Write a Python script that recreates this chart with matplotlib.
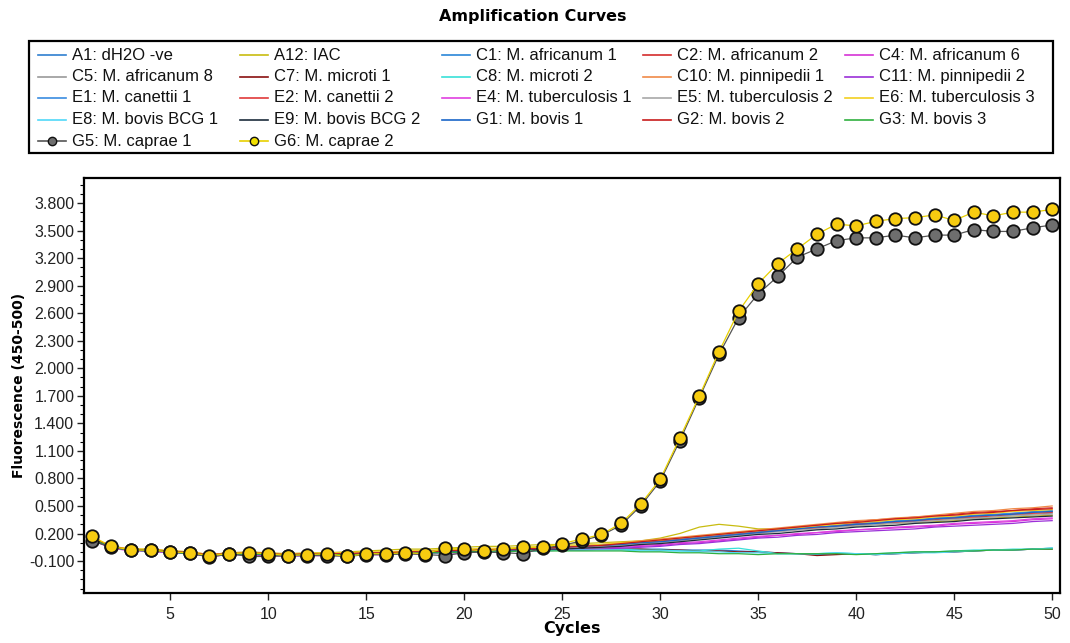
import matplotlib
matplotlib.use('Agg')
import matplotlib.pyplot as plt
from matplotlib.lines import Line2D
from matplotlib.patches import Rectangle
from matplotlib.ticker import MultipleLocator, FormatStrFormatter

plt.rcParams['font.family'] = ['Liberation Sans', 'DejaVu Sans']

cycles = list(range(1, 51))

# fluorescence readings per well
a1 = [0.13, 0.05, 0.02, 0.01, 0.00, -0.02, -0.04, -0.03, -0.02, -0.03, -0.04, -0.03, -0.03, -0.03, -0.02, -0.02, -0.02, -0.01, -0.01, 0.00, 0.00, 0.01, 0.01, 0.02, 0.02,
      0.02, 0.03, 0.03, 0.03, 0.03, 0.02, 0.02, 0.02, 0.01, 0.00, -0.01, -0.02, -0.03, -0.02, -0.02, -0.03, -0.02, -0.01, 0.00, 0.00, 0.01, 0.02, 0.02, 0.03, 0.04]
a12 = [0.15, 0.06, 0.03, 0.03, 0.01, 0.00, -0.03, -0.01, 0.00, -0.01, -0.02, -0.01, -0.01, 0.00, 0.01, 0.02, 0.03, 0.03, 0.04, 0.05, 0.06, 0.06, 0.07, 0.08, 0.08,
       0.09, 0.10, 0.11, 0.12, 0.15, 0.20, 0.27, 0.30, 0.28, 0.25, 0.25, 0.26, 0.27, 0.28, 0.29, 0.30, 0.31, 0.32, 0.33, 0.34, 0.36, 0.37, 0.38, 0.39, 0.40]
c1 = [0.13, 0.05, 0.02, 0.01, 0.00, -0.02, -0.04, -0.03, -0.02, -0.03, -0.04, -0.04, -0.03, -0.03, -0.03, -0.02, -0.02, -0.01, 0.00, 0.00, 0.01, 0.01, 0.02, 0.03, 0.04,
      0.05, 0.06, 0.08, 0.09, 0.11, 0.13, 0.15, 0.17, 0.19, 0.21, 0.23, 0.25, 0.27, 0.29, 0.30, 0.32, 0.33, 0.35, 0.36, 0.38, 0.39, 0.40, 0.42, 0.43, 0.44]
c2 = [0.14, 0.06, 0.02, 0.02, 0.00, -0.01, -0.03, -0.02, -0.01, -0.02, -0.03, -0.03, -0.02, -0.02, -0.02, -0.01, -0.01, 0.00, 0.00, 0.01, 0.02, 0.02, 0.03, 0.03, 0.04,
      0.05, 0.07, 0.08, 0.10, 0.12, 0.14, 0.17, 0.19, 0.21, 0.23, 0.25, 0.27, 0.29, 0.31, 0.33, 0.35, 0.36, 0.38, 0.39, 0.41, 0.43, 0.44, 0.45, 0.47, 0.48]
c4 = [0.13, 0.04, 0.01, 0.01, -0.01, -0.02, -0.05, -0.03, -0.03, -0.04, -0.04, -0.04, -0.04, -0.03, -0.03, -0.03, -0.02, -0.02, -0.01, -0.01, 0.00, 0.00, 0.01, 0.02, 0.02,
      0.03, 0.04, 0.05, 0.06, 0.07, 0.09, 0.10, 0.12, 0.14, 0.16, 0.18, 0.19, 0.21, 0.22, 0.24, 0.25, 0.26, 0.27, 0.28, 0.30, 0.31, 0.32, 0.33, 0.35, 0.36]
c5 = [0.14, 0.05, 0.03, 0.02, 0.01, -0.01, -0.03, -0.02, -0.02, -0.02, -0.03, -0.03, -0.02, -0.02, -0.01, -0.01, 0.00, 0.00, 0.01, 0.02, 0.02, 0.03, 0.03, 0.04, 0.05,
      0.06, 0.07, 0.08, 0.09, 0.11, 0.13, 0.15, 0.17, 0.19, 0.21, 0.22, 0.24, 0.26, 0.27, 0.29, 0.30, 0.32, 0.33, 0.34, 0.36, 0.37, 0.38, 0.40, 0.41, 0.42]
c7 = [0.14, 0.05, 0.02, 0.02, 0.00, -0.01, -0.04, -0.02, -0.02, -0.03, -0.03, -0.03, -0.03, -0.02, -0.02, -0.02, -0.01, -0.01, 0.00, 0.00, 0.01, 0.01, 0.02, 0.02, 0.02,
      0.03, 0.03, 0.03, 0.03, 0.02, 0.02, 0.01, 0.01, 0.00, 0.00, -0.01, -0.02, -0.04, -0.03, -0.02, -0.03, -0.02, -0.01, 0.00, 0.00, 0.01, 0.02, 0.02, 0.03, 0.03]
c8 = [0.14, 0.06, 0.02, 0.02, 0.01, -0.01, -0.03, -0.02, -0.02, -0.02, -0.03, -0.03, -0.02, -0.02, -0.02, -0.01, -0.01, 0.00, 0.00, 0.01, 0.01, 0.02, 0.02, 0.03, 0.03,
      0.03, 0.03, 0.03, 0.02, 0.02, 0.01, 0.01, 0.03, 0.04, 0.01, -0.02, -0.02, -0.02, -0.01, -0.02, -0.02, -0.01, 0.00, 0.00, 0.01, 0.02, 0.02, 0.03, 0.03, 0.04]
c10 = [0.15, 0.06, 0.03, 0.02, 0.01, 0.00, -0.03, -0.01, -0.01, -0.02, -0.03, -0.02, -0.02, -0.01, -0.01, 0.00, 0.00, 0.01, 0.02, 0.02, 0.03, 0.03, 0.04, 0.05, 0.06,
       0.07, 0.08, 0.10, 0.12, 0.14, 0.16, 0.18, 0.20, 0.22, 0.24, 0.26, 0.28, 0.30, 0.32, 0.34, 0.35, 0.37, 0.38, 0.40, 0.42, 0.44, 0.45, 0.47, 0.48, 0.50]
c11 = [0.13, 0.05, 0.02, 0.01, -0.01, -0.02, -0.05, -0.03, -0.03, -0.04, -0.05, -0.04, -0.04, -0.04, -0.03, -0.03, -0.02, -0.02, -0.01, -0.01, 0.00, 0.00, 0.01, 0.01, 0.02,
       0.02, 0.03, 0.04, 0.05, 0.06, 0.08, 0.09, 0.11, 0.13, 0.15, 0.16, 0.18, 0.19, 0.21, 0.22, 0.23, 0.24, 0.25, 0.27, 0.28, 0.29, 0.30, 0.31, 0.33, 0.34]
e1 = [0.14, 0.05, 0.02, 0.02, 0.00, -0.01, -0.04, -0.02, -0.02, -0.03, -0.03, -0.03, -0.03, -0.02, -0.02, -0.01, -0.01, 0.00, 0.00, 0.01, 0.02, 0.02, 0.03, 0.04, 0.04,
      0.05, 0.06, 0.08, 0.10, 0.12, 0.14, 0.16, 0.18, 0.20, 0.22, 0.24, 0.26, 0.27, 0.29, 0.31, 0.32, 0.34, 0.35, 0.37, 0.38, 0.40, 0.41, 0.42, 0.44, 0.45]
e2 = [0.15, 0.06, 0.02, 0.02, 0.01, -0.01, -0.03, -0.02, -0.01, -0.02, -0.03, -0.03, -0.02, -0.02, -0.02, -0.01, 0.00, 0.00, 0.01, 0.01, 0.02, 0.03, 0.03, 0.04, 0.05,
      0.06, 0.07, 0.08, 0.10, 0.12, 0.13, 0.15, 0.17, 0.19, 0.21, 0.23, 0.25, 0.26, 0.28, 0.30, 0.31, 0.32, 0.34, 0.35, 0.37, 0.38, 0.39, 0.41, 0.42, 0.43]
e4 = [0.13, 0.04, 0.02, 0.01, -0.01, -0.02, -0.04, -0.03, -0.03, -0.03, -0.04, -0.04, -0.03, -0.03, -0.03, -0.02, -0.02, -0.01, -0.01, 0.00, 0.00, 0.01, 0.02, 0.02, 0.03,
      0.04, 0.05, 0.06, 0.07, 0.08, 0.10, 0.11, 0.13, 0.15, 0.17, 0.18, 0.20, 0.21, 0.23, 0.24, 0.25, 0.27, 0.28, 0.29, 0.31, 0.32, 0.33, 0.34, 0.36, 0.37]
e5 = [0.14, 0.05, 0.02, 0.02, 0.00, -0.01, -0.04, -0.02, -0.02, -0.03, -0.03, -0.03, -0.03, -0.02, -0.02, -0.02, -0.01, -0.01, 0.00, 0.01, 0.01, 0.02, 0.03, 0.03, 0.04,
      0.05, 0.06, 0.07, 0.09, 0.10, 0.12, 0.14, 0.16, 0.18, 0.20, 0.22, 0.24, 0.25, 0.27, 0.28, 0.30, 0.31, 0.32, 0.34, 0.35, 0.36, 0.38, 0.39, 0.40, 0.41]
e6 = [0.15, 0.06, 0.03, 0.03, 0.01, 0.00, -0.03, -0.01, -0.01, -0.02, -0.02, -0.02, -0.01, -0.01, 0.00, 0.00, 0.01, 0.02, 0.02, 0.03, 0.04, 0.04, 0.05, 0.06, 0.06,
      0.07, 0.08, 0.10, 0.11, 0.13, 0.15, 0.17, 0.19, 0.21, 0.23, 0.25, 0.26, 0.28, 0.30, 0.32, 0.33, 0.35, 0.36, 0.38, 0.39, 0.41, 0.42, 0.44, 0.45, 0.46]
e8 = [0.13, 0.05, 0.02, 0.01, 0.00, -0.02, -0.04, -0.03, -0.02, -0.03, -0.04, -0.04, -0.03, -0.03, -0.02, -0.02, -0.02, -0.01, -0.01, 0.00, 0.00, 0.01, 0.01, 0.01, 0.02,
      0.02, 0.02, 0.02, 0.01, 0.01, 0.01, 0.00, 0.00, -0.01, -0.01, -0.02, -0.02, -0.02, -0.01, -0.02, -0.03, -0.02, -0.01, -0.01, 0.00, 0.01, 0.02, 0.02, 0.03, 0.04]
e9 = [0.13, 0.05, 0.02, 0.01, 0.00, -0.02, -0.04, -0.03, -0.02, -0.03, -0.04, -0.03, -0.03, -0.03, -0.02, -0.02, -0.01, -0.01, 0.00, 0.00, 0.01, 0.02, 0.02, 0.03, 0.03,
      0.04, 0.05, 0.06, 0.08, 0.09, 0.11, 0.13, 0.15, 0.17, 0.19, 0.20, 0.22, 0.24, 0.25, 0.27, 0.28, 0.29, 0.31, 0.32, 0.33, 0.35, 0.36, 0.37, 0.38, 0.39]
g1 = [0.14, 0.05, 0.02, 0.02, 0.00, -0.01, -0.04, -0.02, -0.02, -0.03, -0.03, -0.03, -0.03, -0.02, -0.02, -0.01, -0.01, 0.00, 0.01, 0.01, 0.02, 0.02, 0.03, 0.04, 0.05,
      0.06, 0.07, 0.08, 0.10, 0.11, 0.13, 0.15, 0.17, 0.19, 0.21, 0.23, 0.25, 0.27, 0.28, 0.30, 0.31, 0.33, 0.34, 0.36, 0.37, 0.39, 0.40, 0.41, 0.43, 0.44]
g2 = [0.15, 0.06, 0.02, 0.02, 0.01, -0.01, -0.03, -0.02, -0.01, -0.02, -0.03, -0.02, -0.02, -0.02, -0.01, -0.01, 0.00, 0.00, 0.01, 0.02, 0.02, 0.03, 0.03, 0.04, 0.05,
      0.06, 0.07, 0.09, 0.11, 0.13, 0.15, 0.17, 0.19, 0.21, 0.23, 0.25, 0.27, 0.29, 0.31, 0.32, 0.34, 0.36, 0.37, 0.39, 0.40, 0.42, 0.43, 0.45, 0.46, 0.47]
g3 = [0.14, 0.05, 0.02, 0.01, 0.00, -0.02, -0.04, -0.03, -0.02, -0.03, -0.04, -0.03, -0.03, -0.03, -0.03, -0.02, -0.02, -0.01, -0.01, 0.00, 0.00, 0.00, 0.01, 0.01, 0.01,
      0.01, 0.01, 0.01, 0.00, 0.00, -0.01, -0.01, -0.02, -0.02, -0.03, -0.02, -0.02, -0.02, -0.02, -0.03, -0.02, -0.01, 0.00, 0.00, 0.01, 0.01, 0.02, 0.02, 0.03, 0.03]
g5 = [0.12, 0.05, 0.02, 0.02, 0.00, -0.01, -0.06, -0.02, -0.05, -0.05, -0.04, -0.04, -0.04, -0.05, -0.03, -0.03, -0.02, -0.03, -0.04, -0.01, 0.00, -0.01, -0.02, 0.04, 0.07,
      0.12, 0.18, 0.29, 0.50, 0.77, 1.21, 1.68, 2.15, 2.55, 2.81, 3.00, 3.21, 3.30, 3.39, 3.42, 3.42, 3.45, 3.42, 3.45, 3.45, 3.51, 3.49, 3.49, 3.53, 3.56]
g6 = [0.17, 0.06, 0.02, 0.02, 0.00, -0.01, -0.04, -0.02, -0.01, -0.02, -0.04, -0.03, -0.02, -0.05, -0.02, -0.02, -0.01, -0.02, 0.04, 0.03, 0.01, 0.03, 0.05, 0.05, 0.09,
      0.14, 0.19, 0.31, 0.52, 0.79, 1.24, 1.70, 2.18, 2.62, 2.92, 3.14, 3.30, 3.46, 3.57, 3.55, 3.60, 3.63, 3.64, 3.67, 3.61, 3.70, 3.66, 3.70, 3.70, 3.73]

labels = ['A1: dH2O -ve', 'A12: IAC', 'C1: M. africanum 1', 'C2: M. africanum 2', 'C4: M. africanum 6',
          'C5: M. africanum 8', 'C7: M. microti 1', 'C8: M. microti 2', 'C10: M. pinnipedii 1', 'C11: M. pinnipedii 2',
          'E1: M. canettii 1', 'E2: M. canettii 2', 'E4: M. tuberculosis 1', 'E5: M. tuberculosis 2', 'E6: M. tuberculosis 3',
          'E8: M. bovis BCG 1', 'E9: M. bovis BCG 2', 'G1: M. bovis 1', 'G2: M. bovis 2', 'G3: M. bovis 3',
          'G5: M. caprae 1', 'G6: M. caprae 2']
colors = ['#2f7fd0', '#c8bc10', '#2a86d8', '#d42c2c', '#d633d6',
          '#9a9a9a', '#8a1010', '#38e0d8', '#f08a48', '#9b30d8',
          '#3a8ce0', '#e03a3a', '#e040e0', '#a8a8a8', '#f2d020',
          '#50d8f8', '#1c2c3c', '#1a66c8', '#c81c1c', '#30b040',
          '#555555', '#e8d000']
series = [a1, a12, c1, c2, c4, c5, c7, c8, c10, c11, e1, e2, e4, e5, e6, e8, e9, g1, g2, g3, g5, g6]

W, H = 1070, 643


def fx(px):
    return px / W


def fy(py):
    return 1 - py / H


fig = plt.figure(figsize=(10.7, 6.43), dpi=100)
ax = fig.add_axes([fx(84), fy(593), fx(1060) - fx(84), fy(178) - fy(593)])

for lab, col, vals in zip(labels[:-2], colors[:-2], series[:-2]):
    ax.plot(cycles, vals, color=col, lw=0.9)

ax.plot(cycles, g5, color=colors[20], lw=0.9, marker='o', ms=9,
        mfc='#6e6e6e', mec='#111111', mew=1.3)
ax.plot(cycles, g6, color=colors[21], lw=0.9, marker='o', ms=9,
        mfc='#f7cc10', mec='#111111', mew=1.3)

ax.set_xlim(0.6, 50.4)
ax.set_ylim(-0.448, 4.072)
ax.set_xticks(range(5, 51, 5))
ax.set_yticks([-0.1 + 0.3 * i for i in range(14)])
ax.yaxis.set_major_formatter(FormatStrFormatter('%.3f'))
ax.yaxis.set_minor_locator(MultipleLocator(0.1))
ax.tick_params(direction='out', length=5, width=1, labelsize=11.5, pad=2, colors='#222222')
ax.tick_params(axis='x', pad=5)
ax.tick_params(which='minor', length=3, width=0.8)
for s in ax.spines.values():
    s.set_linewidth(1.6)
    s.set_color('black')

ax.set_xlabel('Cycles', fontsize=11.5, fontweight='bold', family='DejaVu Sans')
ax.xaxis.set_label_coords(0.5, -0.067)
ax.set_ylabel('Fluorescence (450-500)', fontsize=10, fontweight='bold', family='DejaVu Sans')
ax.yaxis.set_label_coords(-0.059, 0.5)

fig.text(fx(533), fy(17), 'Amplification Curves', ha='center', va='center',
         fontsize=11.5, fontweight='bold', family='DejaVu Sans')

# legend laid out row by row like the instrument software
fig.patches.append(Rectangle((fx(29), fy(153)), fx(1053) - fx(29), fy(41) - fy(153),
                             transform=fig.transFigure, fill=False, ec='black', lw=1.6))
for i, (lab, col) in enumerate(zip(labels, colors)):
    r, c = divmod(i, 5)
    x0 = 38 + c * 201.75
    y0 = 55 + r * 21.5
    ln = Line2D([fx(x0), fx(x0 + 28)], [fy(y0), fy(y0)], transform=fig.transFigure,
                color=col, lw=1.2)
    fig.lines.append(ln)
    if lab.startswith('G5') or lab.startswith('G6'):
        face = '#6e6e6e' if lab.startswith('G5') else '#f2e000'
        mk = Line2D([fx(x0 + 14)], [fy(y0)], transform=fig.transFigure, marker='o',
                    ms=6, mfc=face, mec='#111111', mew=1.0, lw=0)
        fig.lines.append(mk)
    fig.text(fx(x0 + 34), fy(y0), lab, ha='left', va='center', fontsize=12, color='#111111')

fig.savefig('out.png', dpi=100)
